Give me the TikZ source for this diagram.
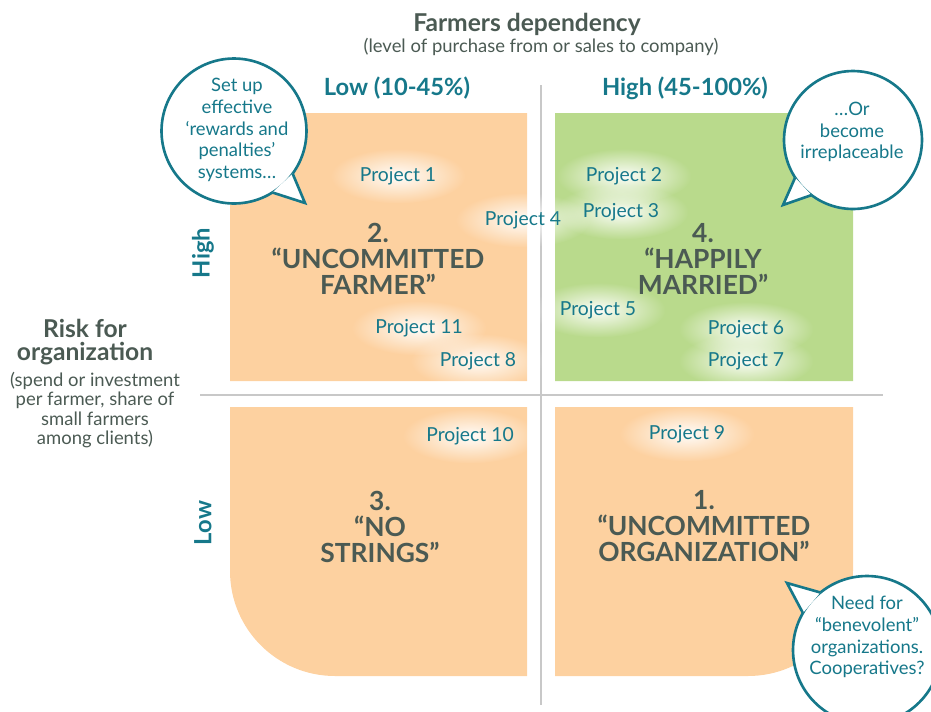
\documentclass[tikz,border=0pt]{standalone}
\usepackage{fontspec}
\setmainfont{Lato}
\usepackage{xcolor}
\usepackage{tikz}
\usetikzlibrary{shapes.geometric,fadings}
\definecolor{peach}{HTML}{FDD1A0}
\definecolor{leaf}{HTML}{B9DA8C}
\definecolor{petrol}{HTML}{16788A}
\definecolor{slate}{HTML}{4B5A53}
\definecolor{divider}{HTML}{C8C8C8}
\tikzfading[name=glow,inner color=transparent!5,outer color=transparent!100]
\tikzset{
  proj/.style    ={ellipse,minimum width=2.7cm,minimum height=1.1cm,inner sep=0pt,
                   fill=white,path fading=glow,text=petrol,
                   font=\fontsize{11}{13}\selectfont},
  quadlabel/.style={align=center,text=slate,font=\fontsize{15}{14.7}\selectfont\bfseries},
  title/.style   ={align=center,text=slate,font=\fontsize{14}{13.5}\selectfont\bfseries},
  subtitle/.style={align=center,text=slate,font=\fontsize{10.5}{11}\selectfont},
  axislabel/.style={text=petrol,font=\fontsize{13.5}{15}\selectfont\bfseries},
  bubble/.style  ={circle,draw=petrol,line width=1.5pt,fill=white,inner sep=0pt,outer sep=0pt},
  bubline/.style ={draw=petrol,line width=1.5pt,line join=miter},
  bubtext/.style ={align=center,text=petrol,font=\fontsize{10.5}{12.4}\selectfont},
  divline/.style ={draw=divider,line width=1.1pt}
}

\begin{document}
\begin{tikzpicture}[x=0.02cm,y=-0.02cm]
  \useasboundingbox (0,0) rectangle (931,711);
  \clip (0,0) rectangle (931,711);
  \fill[peach] (527,381) -- (230,381) -- (230,148) arc[start angle=180,end angle=270,radius=35]
    -- (527,113) -- cycle;
  \fill[leaf] (555,381) -- (555,113) -- (818,113) arc[start angle=270,end angle=360,radius=35]
    -- (853,381) -- cycle;
  \fill[peach] (527,407) -- (230,407) -- (230,571) arc[start angle=180,end angle=90,radius=105]
    -- (527,676) -- cycle;
  \fill[peach] (555,407) -- (853,407) -- (853,571) arc[start angle=0,end angle=90,radius=105]
    -- (555,676) -- cycle;
  \draw[divline] (541,85) -- (541,705);
  \draw[divline] (200,395) -- (883,395);

  \node[title] (dep) at (527,24) {Farmers dependency};
  \node[subtitle] (depsub) at (541,47) {(level of purchase from or sales to company)};
  \node[axislabel] (lowx) at (397,88) {Low (10-45\%)};
  \node[axislabel] (highx) at (685,88) {High (45-100\%)};
  \node[axislabel,rotate=90] (highy) at (203,253) {High};
  \node[axislabel,rotate=90] (lowy) at (203,523) {Low};
  \node[title] (risk) at (85,342) {Risk for\\organization};
  \node[subtitle] (risksub) at (95,410) {(spend or investment\\per farmer, share of\\small farmers\\among clients)};

  \node[proj] (p1) at (398,176) {Project 1};
  \node[proj] (p4) at (523,220) {Project 4};
  \node[proj] (p11) at (419,328) {Project 11};
  \node[proj] (p8) at (478,361) {Project 8};
  \node[proj] (p2) at (624,176) {Project 2};
  \node[proj] (p3) at (621,212) {Project 3};
  \node[proj] (p5) at (598,310) {Project 5};
  \node[proj] (p6) at (746,329) {Project 6};
  \node[proj] (p7) at (746,361) {Project 7};
  \node[proj] (p10) at (470,436) {Project 10};
  \node[proj] (p9) at (687,434) {Project 9};

  \node[quadlabel] (q2) at (378,259) {2.\\“UNCOMMITTED\\FARMER”};
  \node[quadlabel] (q4) at (703,259) {4.\\“HAPPILY\\MARRIED”};
  \node[quadlabel] (q3) at (380,527) {3.\\“NO\\STRINGS”};
  \node[quadlabel] (q1) at (704,526) {1.\\“UNCOMMITTED\\ORGANIZATION”};

  \node[bubble,minimum size=2.9cm] (bubA) at (234,131) {};
  \coordinate (tipA) at (305,203);
  \fill[white] (bubA.-58) -- (tipA) -- (bubA.-36) -- cycle;
  \draw[bubline] (bubA.-58) -- (tipA) -- (bubA.-36);
  \node[bubtext] (bubAtxt) at (237,130) {Set up\\effective\\‘rewards and\\penalties’\\systems…};

  \node[bubble,minimum size=2.76cm] (bubB) at (853,140) {};
  \coordinate (tipB) at (783,205);
  \fill[white] (bubB.213) -- (tipB) -- (bubB.233) -- cycle;
  \draw[bubline] (bubB.213) -- (tipB) -- (bubB.233);
  \node[bubtext] (bubBtxt) at (852,132) {…Or\\become\\irreplaceable};

  \node[bubble,minimum size=2.96cm] (bubC) at (867,650) {};
  \coordinate (tipC) at (787,583);
  \fill[white] (bubC.129) -- (tipC) -- (bubC.150) -- cycle;
  \draw[bubline] (bubC.129) -- (tipC) -- (bubC.150);
  \node[bubtext] (bubCtxt) at (867,637) {Need for\\“benevolent”\\organizations.\\Cooperatives?};
\end{tikzpicture}
\end{document}
